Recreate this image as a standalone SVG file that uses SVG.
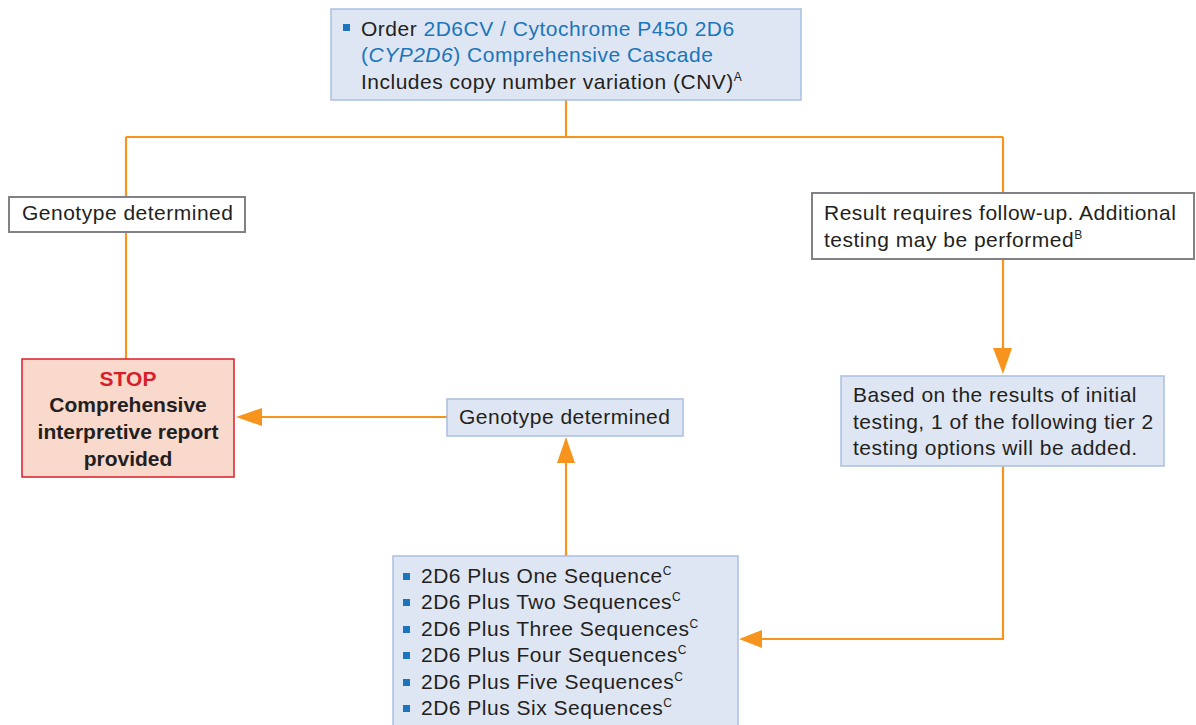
<svg xmlns="http://www.w3.org/2000/svg" width="1196" height="725" viewBox="0 0 1196 725">
<style>
text{font-family:"Liberation Sans",Arial,sans-serif;font-size:21px;letter-spacing:0.5px;fill:#231f20}
.blue{fill:#1a75bb}
.box{fill:#dfe6f3;stroke:#a9bfe2;stroke-width:1.5}
.gbox{fill:#ffffff;stroke:#808285;stroke-width:2}
.stop{fill:#f9d9cc;stroke:#d71f2b;stroke-width:1.5}
.c{fill:none;stroke:#f7941d;stroke-width:2.2}
.bul{fill:#1b75bc}
.b{font-weight:bold;text-anchor:middle;letter-spacing:0}
.sup{font-size:12px;letter-spacing:0}
</style>
<g id="connectors">
<path class="c" d="M566,100 V137 M126,137 H1003 M126,137 V197 M1003,137 V193"/>
<path class="c" d="M126,232 V359"/>
<path class="c" d="M1003,259 V350"/>
<path d="M993,348 L1012,348 L1003,374 Z" fill="#f7941d"/>
<path class="c" d="M1003,466 V639 H760"/>
<path d="M762,630 L762,648 L739,639 Z" fill="#f7941d"/>
<path class="c" d="M566,556 V462"/>
<path d="M557,463 L575,463 L566,437 Z" fill="#f7941d"/>
<path class="c" d="M447,417 H260"/>
<path d="M262,408 L262,426 L236,417 Z" fill="#f7941d"/>
</g>
<g id="order">
<rect class="box" x="331" y="9" width="470" height="91"/>
<rect class="bul" x="343" y="24" width="7" height="7"/>
<text x="361" y="36">Order <tspan class="blue">2D6CV / Cytochrome P450 2D6</tspan></text>
<text x="361" y="62" class="blue">(<tspan font-style="italic" class="blue">CYP2D6</tspan>) Comprehensive Cascade</text>
<text x="361" y="89">Includes copy number variation (CNV)<tspan class="sup" dy="-8">A</tspan></text>
</g>
<g id="geno1">
<rect class="gbox" x="9" y="197" width="236" height="35"/>
<text x="22" y="220">Genotype determined</text>
</g>
<g id="followup">
<rect class="gbox" x="812" y="193" width="382" height="66"/>
<text x="824" y="220">Result requires follow-up. Additional</text>
<text x="824" y="247">testing may be performed<tspan class="sup" dy="-8">B</tspan></text>
</g>
<g id="stop">
<rect class="stop" x="22" y="359" width="212" height="118"/>
<text x="128" y="386" class="b" style="fill:#d71f2b">STOP</text>
<text x="128" y="412" class="b">Comprehensive</text>
<text x="128" y="439" class="b">interpretive report</text>
<text x="128" y="466" class="b">provided</text>
</g>
<g id="tier2">
<rect class="box" x="841" y="376" width="323" height="90"/>
<text x="853" y="402">Based on the results of initial</text>
<text x="853" y="429">testing, 1 of the following tier 2</text>
<text x="853" y="455">testing options will be added.</text>
</g>
<g id="geno2">
<rect class="box" x="447" y="399" width="236" height="37"/>
<text x="459" y="424">Genotype determined</text>
</g>
<g id="seqs">
<rect class="box" x="393" y="556" width="345" height="175"/>
<rect class="bul" x="403" y="573" width="7" height="7"/>
<rect class="bul" x="403" y="599" width="7" height="7"/>
<rect class="bul" x="403" y="626" width="7" height="7"/>
<rect class="bul" x="403" y="652" width="7" height="7"/>
<rect class="bul" x="403" y="679" width="7" height="7"/>
<rect class="bul" x="403" y="705" width="7" height="7"/>
<text x="421" y="583">2D6 Plus One Sequence<tspan class="sup" dy="-8">C</tspan></text>
<text x="421" y="609">2D6 Plus Two Sequences<tspan class="sup" dy="-8">C</tspan></text>
<text x="421" y="636">2D6 Plus Three Sequences<tspan class="sup" dy="-8">C</tspan></text>
<text x="421" y="662">2D6 Plus Four Sequences<tspan class="sup" dy="-8">C</tspan></text>
<text x="421" y="689">2D6 Plus Five Sequences<tspan class="sup" dy="-8">C</tspan></text>
<text x="421" y="715">2D6 Plus Six Sequences<tspan class="sup" dy="-8">C</tspan></text>
</g>
</svg>
